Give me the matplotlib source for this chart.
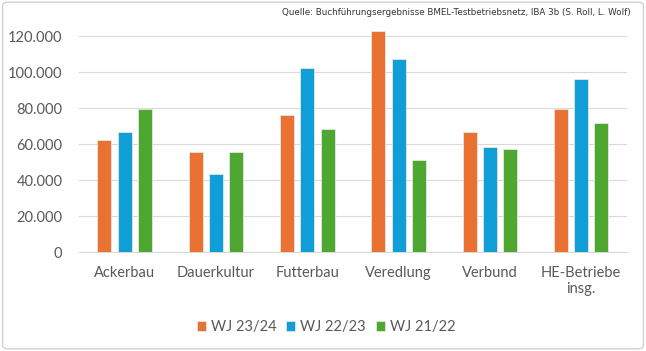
import numpy as np
import matplotlib
matplotlib.use("Agg")
import matplotlib.pyplot as plt
from matplotlib.patches import FancyBboxPatch

# Data
categories = ["Ackerbau", "Dauerkultur", "Futterbau", "Veredlung", "Verbund", "HE-Betriebe\ninsg."]
series_names = ["WJ 23/24", "WJ 22/23", "WJ 21/22"]
wj_2324 = [62000, 55500, 76000, 123000, 66700, 79600]
wj_2223 = [66700, 43500, 102000, 107000, 58200, 96200]
wj_2122 = [79600, 55700, 68200, 51400, 57000, 71800]
colors = ["#E97132", "#0F9ED5", "#4EA72E"]
yticks = [0, 20000, 40000, 60000, 80000, 100000, 120000]

plt.rcParams['font.family'] = ['Lato', 'DejaVu Sans']

fig = plt.figure(figsize=(6.46, 3.51), dpi=100)
ax = fig.add_axes([0.1223, 0.282, 0.848, 0.641])

x = np.arange(len(categories))
width = 0.153
step = 0.222
for i, (vals, name) in enumerate(zip([wj_2324, wj_2223, wj_2122], series_names)):
    ax.bar(x + (i - 1) * step, vals, width, color=colors[i], label=name,
           edgecolor="#e6e6e6", linewidth=0.6, zorder=3)

ax.set_xlim(-0.5, len(categories) - 0.5)
ax.set_ylim(0, 125000)
ax.set_yticks(yticks)
ax.set_yticklabels([f"{v:,.0f}".replace(",", ".") for v in yticks])
ax.set_xticks(x)
ax.set_xticklabels(categories)
ax.tick_params(axis="y", length=0, labelsize=10.5, colors="#595959", pad=12)
ax.tick_params(axis="x", length=0, labelsize=10.5, colors="#595959", pad=10)
ax.grid(axis="y", color="#d9d9d9", linewidth=0.8, zorder=0)
for s in ["top", "right", "left"]:
    ax.spines[s].set_visible(False)
ax.spines["bottom"].set_color("#d9d9d9")

leg = fig.legend(loc="center", bbox_to_anchor=(0.505, 0.068), ncol=3, frameon=False,
                 fontsize=10.5, handlelength=0.6, handleheight=0.6, handletextpad=0.35,
                 columnspacing=0.7)
for t in leg.get_texts():
    t.set_color("#595959")

fig.text(0.976, 0.965, "Quelle: Buchführungsergebnisse BMEL-Testbetriebsnetz, IBA 3b (S. Roll, L. Wolf)",
         ha="right", va="center", fontsize=6.3, color="#333333",
         family=["Liberation Sans Narrow", "DejaVu Sans"])

border = FancyBboxPatch((0.004, 0.006), 0.992, 0.988, boxstyle="round,pad=0,rounding_size=0.01",
                        transform=fig.transFigure, fill=False, edgecolor="#d0d0d0", linewidth=1.0)
fig.patches.append(border)

fig.savefig("out.png", dpi=100)
